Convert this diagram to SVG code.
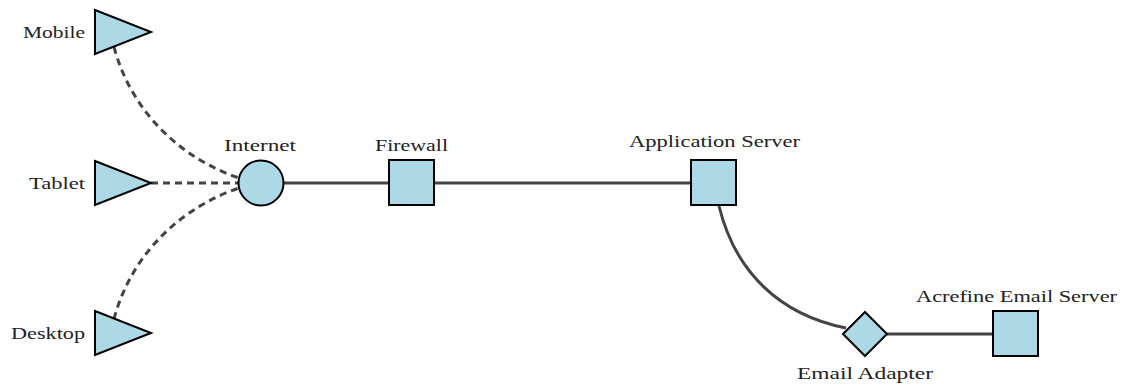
<svg xmlns="http://www.w3.org/2000/svg" width="1132" height="389" viewBox="0 0 1132 389">
  <style>
    .node { fill: #add8e6; stroke: #000; stroke-width: 2; stroke-linejoin: miter; }
    .label { font-family: "Liberation Serif", "DejaVu Serif", serif; font-size: 16px; fill: #222; }
    .link { fill: none; stroke: #444; stroke-width: 3; }
    .dashed { stroke-dasharray: 7 5; }
  </style>
  <rect width="1132" height="389" fill="#fff"/>

  <g id="connectors">
    <path class="link dashed" d="M 114 47 C 132 115, 185 160, 239 178"/>
    <path class="link dashed" d="M 151 183 L 238 183"/>
    <path class="link dashed" d="M 114 319 C 132 251, 185 206, 239 188"/>
    <path class="link" d="M 284 183 L 389 183"/>
    <path class="link" d="M 434 183 L 691 183"/>
    <path class="link" d="M 719 206 C 735 272, 780 315, 846 328"/>
    <path class="link" d="M 887 334 L 993 334"/>
  </g>

  <g id="mobile">
    <polygon class="node" points="95,10 151,32 95,54"/>
    <text class="label" x="23" y="38" textLength="62" lengthAdjust="spacingAndGlyphs">Mobile</text>
  </g>
  <g id="tablet">
    <polygon class="node" points="95,161 151,183 95,205"/>
    <text class="label" x="29" y="189" textLength="56" lengthAdjust="spacingAndGlyphs">Tablet</text>
  </g>
  <g id="desktop">
    <polygon class="node" points="95,311 151,333 95,355"/>
    <text class="label" x="11" y="339" textLength="74" lengthAdjust="spacingAndGlyphs">Desktop</text>
  </g>
  <g id="internet">
    <circle class="node" cx="261" cy="183" r="22.5"/>
    <text class="label" x="224" y="151" textLength="72" lengthAdjust="spacingAndGlyphs">Internet</text>
  </g>
  <g id="firewall">
    <rect class="node" x="389" y="160" width="45" height="45"/>
    <text class="label" x="375" y="151" textLength="73" lengthAdjust="spacingAndGlyphs">Firewall</text>
  </g>
  <g id="app-server">
    <rect class="node" x="691" y="160" width="45" height="45"/>
    <text class="label" x="629" y="147" textLength="171" lengthAdjust="spacingAndGlyphs">Application Server</text>
  </g>
  <g id="email-adapter">
    <polygon class="node" points="865,312 887,334 865,356 843,334"/>
    <text class="label" x="797" y="379" textLength="136" lengthAdjust="spacingAndGlyphs">Email Adapter</text>
  </g>
  <g id="email-server">
    <rect class="node" x="993" y="311" width="45" height="45"/>
    <text class="label" x="916" y="302" textLength="201" lengthAdjust="spacingAndGlyphs">Acrefine Email Server</text>
  </g>
</svg>
